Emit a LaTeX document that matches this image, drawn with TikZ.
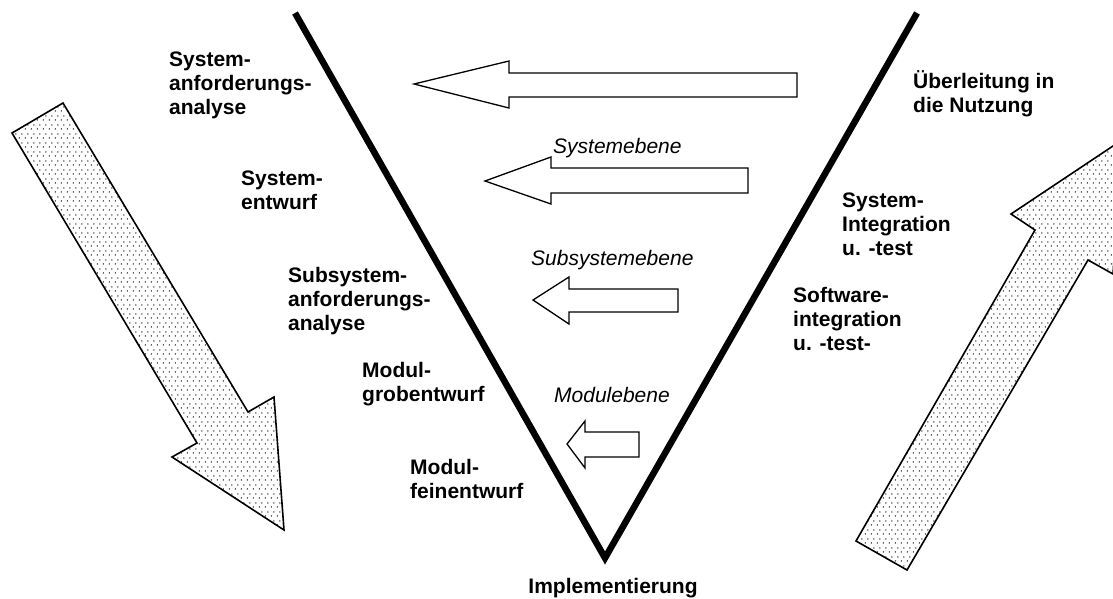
\documentclass[tikz,border=0pt]{standalone}
\usepackage{fontspec}
\setmainfont{Liberation Sans}
\usetikzlibrary{patterns.meta}

% dot raster for the two large process arrows
\tikzdeclarepattern{
  name=stipple,
  bounding box={(0pt,0pt) and (6pt,9pt)},
  tile size={(6pt,9pt)},
  code={
    \fill (1.5pt,2.25pt) circle (0.85pt);
    \fill (4.5pt,6.75pt) circle (0.85pt);
  }
}

\tikzset{
  phase/.style={anchor=base west, inner sep=0pt, font=\fontsize{21}{24.1}\selectfont\bfseries},
  level/.style={anchor=base west, inner sep=0pt, font=\fontsize{21}{24.1}\selectfont\itshape},
  hollow/.style={draw, line width=1.3pt, fill=white, line join=miter},
  stippled/.style={draw, line width=1.6pt, pattern=stipple, pattern color=black!85, line join=miter},
  vline/.style={line width=6.5pt, line join=miter}
}

\newcommand{\lines}[1]{\begin{tabular}[t]{@{}l@{}}#1\end{tabular}}

\begin{document}
\begin{tikzpicture}[x=1pt, y=-1pt]
\useasboundingbox (0,0) rectangle (1113,598);
\clip (0,0) rectangle (1113,598);

% the V
\coordinate (vl) at (295,13);
\coordinate (vb) at (605,558);
\coordinate (vr) at (917,13);
\draw[vline] (vl) -- (vb) -- (vr);

% large stippled arrows: decomposition (down) and integration (up)
\draw[stippled] (12,133) -- (63,103) -- (248,412) -- (274,397) -- (284,530)
  -- (172,457) -- (197,443) -- cycle;
\draw[stippled] (856,541) -- (907,570) -- (1088,260) -- (1113,274) -- (1122,140)
  -- (1011,214) -- (1035,230) -- cycle;

% hollow arrows pointing back to the left arm
\draw[hollow] (414,84) -- (509,61) -- (509,73) -- (797,73) -- (797,97)
  -- (509,97) -- (509,108) -- cycle;
\draw[hollow] (485,181) -- (551,157) -- (551,168) -- (748,168) -- (748,193)
  -- (551,193) -- (551,204) -- cycle;
\draw[hollow] (533,300) -- (569,277) -- (569,289) -- (678,289) -- (678,312)
  -- (569,312) -- (569,324) -- cycle;
\draw[hollow] (567,444) -- (585,421) -- (585,432) -- (639,432) -- (639,457)
  -- (585,457) -- (585,468) -- cycle;

% level labels
\node[level] (lsys) at (553,153) {Systemebene};
\node[level] (lsub) at (531,265) {Subsystemebene};
\node[level] (lmod) at (554,402) {Modulebene};

% phases on the left arm
\node[phase] (sysanf) at (169,66) {\lines{System-\\anforderungs-\\analyse}};
\node[phase] (sysentw) at (241,185) {\lines{System-\\entwurf}};
\node[phase] (subanf) at (288,282) {\lines{Subsystem-\\anforderungs-\\analyse}};
\node[phase] (modgrob) at (362,377) {\lines{Modul-\\grobentwurf}};
\node[phase] (modfein) at (410,474) {\lines{Modul-\\feinentwurf}};

% bottom
\node[phase, anchor=base] (impl) at (613,593) {Implementierung};

% phases on the right arm
\node[phase] (ueber) at (913,88) {\lines{Überleitung in\\die Nutzung}};
\node[phase] (sysint) at (842,207) {\lines{System-\\Integration\\u. -test}};
\node[phase] (swint) at (793,302) {\lines{Software-\\integration\\u. -test-}};
\end{tikzpicture}
\end{document}
